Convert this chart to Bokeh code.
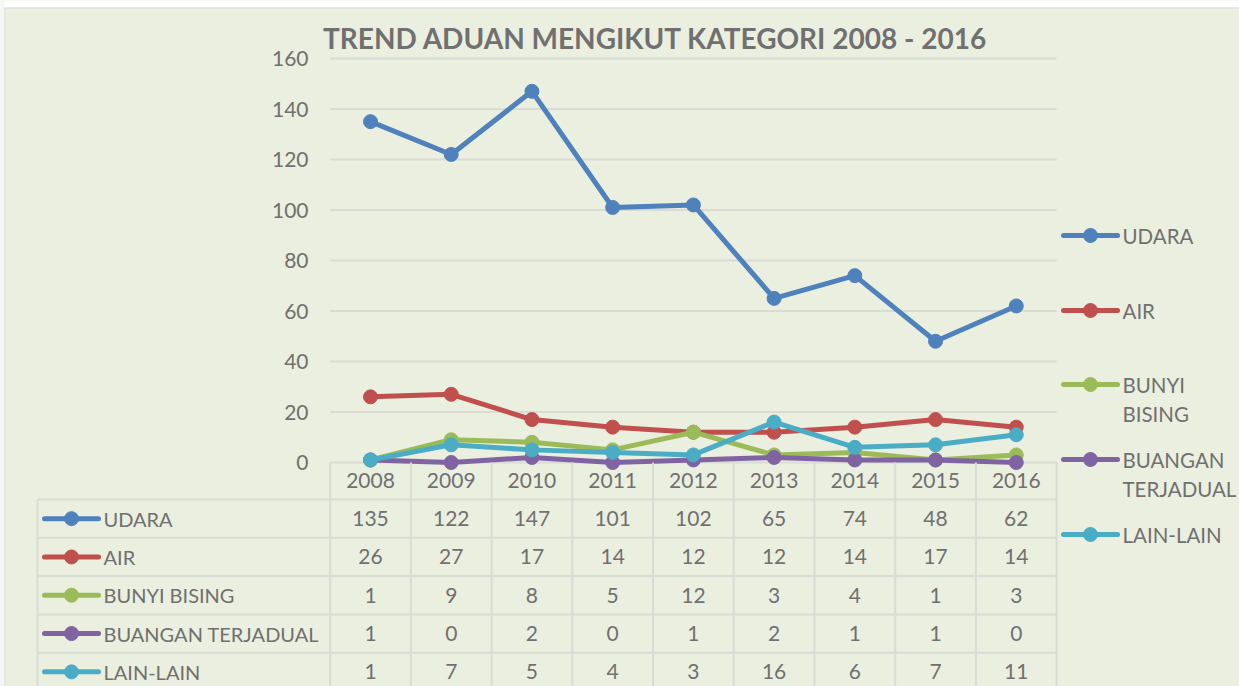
from bokeh.plotting import figure
from bokeh.models import Range1d
from bokeh.embed import file_html
from bokeh.resources import INLINE
from bokeh.core.properties import value

# ---------------- data ----------------
title_text = "TREND ADUAN MENGIKUT KATEGORI 2008 - 2016"
years = ["2008", "2009", "2010", "2011", "2012", "2013", "2014", "2015", "2016"]
series_names = ["UDARA", "AIR", "BUNYI BISING", "BUANGAN TERJADUAL", "LAIN-LAIN"]
legend_lines = [["UDARA"], ["AIR"], ["BUNYI", "BISING"], ["BUANGAN", "TERJADUAL"], ["LAIN-LAIN"]]
udara = [135, 122, 147, 101, 102, 65, 74, 48, 62]
air = [26, 27, 17, 14, 12, 12, 14, 17, 14]
bunyi_bising = [1, 9, 8, 5, 12, 3, 4, 1, 3]
buangan_terjadual = [1, 0, 2, 0, 1, 2, 1, 1, 0]
lain_lain = [1, 7, 5, 4, 3, 16, 6, 7, 11]
y_ticks = [0, 20, 40, 60, 80, 100, 120, 140, 160]

series_values = [udara, air, bunyi_bising, buangan_terjadual, lain_lain]
colors = ["#4F81BD", "#C0504D", "#9BBB59", "#8064A2", "#4BACC6"]

# ---------------- styling / layout ----------------
BG = "#EBEFDF"
TXT = "#707070"
GRID = "#D9DBD5"
FONT = value("Lato")
W, H = 1239, 686
ORIGIN = 0           # page offset of figure in picture
X0, DX = 370.0, 80.72   # picture x of first category, px per category
Y0, DY = 462.0, 2.525   # picture y of value 0, px per unit
LW = 5


def px_x(px):
    return (px - X0) / DX


def px_y(py):
    return (Y0 - py) / DY


x_range = Range1d(px_x(ORIGIN), px_x(ORIGIN + W))
y_range = Range1d(px_y(ORIGIN + H), px_y(ORIGIN))

p = figure(width=W, height=H, x_range=x_range, y_range=y_range,
           output_backend="svg", toolbar_location=None,
           x_axis_location=None, y_axis_location=None,
           min_border=0, min_border_left=0, min_border_right=0,
           min_border_top=0, min_border_bottom=0,
           background_fill_color=BG, border_fill_color=BG,
           outline_line_color=None)
p.grid.visible = False

# slide strip above / left of the chart box
p.quad(left=[px_x(0)], right=[px_x(W)], top=[px_y(0)], bottom=[px_y(7)],
       fill_color="#FFFFFF", line_color=None)
p.quad(left=[px_x(0)], right=[px_x(4)], top=[px_y(0)], bottom=[px_y(H)],
       fill_color="#F2F8F6", line_color=None)
p.segment(x0=[px_x(4)], x1=[px_x(W)], y0=[px_y(7.5)], y1=[px_y(7.5)],
          line_color="#DCDCDC", line_width=1)
p.segment(x0=[px_x(4.5)], x1=[px_x(4.5)], y0=[px_y(7.5)], y1=[px_y(H)],
          line_color="#DCDCDC", line_width=1)

n = len(years)
xs = list(range(n))
left_edge, right_edge = -0.5, n - 0.5

# gridlines
p.segment(x0=[left_edge] * len(y_ticks), x1=[right_edge] * len(y_ticks),
          y0=y_ticks, y1=y_ticks, line_color=GRID, line_width=2)
# y tick labels
p.text(x=[px_x(308)] * len(y_ticks), y=y_ticks, text=[str(t) for t in y_ticks],
       text_align="right", text_baseline="middle", text_font=FONT,
       text_font_size="21px", text_color=TXT)

# title
p.text(x=[px_x(655)], y=[px_y(37)], text=[title_text], text_align="center",
       text_baseline="middle", text_font=FONT, text_font_size="28px",
       text_font_style="bold", text_color=TXT)

# series
for vals, c in zip(series_values, colors):
    p.line(xs, vals, line_color=c, line_width=LW, line_join="round")
    p.scatter(xs, vals, size=14, fill_color=c, line_color=c)

# ---------------- data table ----------------
table_left = px_x(37)
header_mid = px_y(480)
row_top = 499.0
row_h = 38.3
row_lines = [px_y(row_top + k * row_h) for k in range(len(series_names))]
bottom = px_y(ORIGIN + H + 20)

p.segment(x0=[table_left] * len(row_lines), x1=[right_edge] * len(row_lines),
          y0=row_lines, y1=row_lines, line_color=GRID, line_width=2)
col_edges = [i - 0.5 for i in range(n + 1)]
p.segment(x0=col_edges, x1=col_edges, y0=[0] * len(col_edges), y1=[bottom] * len(col_edges),
          line_color=GRID, line_width=2)
p.segment(x0=[table_left], x1=[table_left], y0=[row_lines[0]], y1=[bottom],
          line_color=GRID, line_width=2)

p.text(x=xs, y=[header_mid] * n, text=years, text_align="center", text_baseline="middle",
       text_font=FONT, text_font_size="21px", text_color=TXT)

for r, (name, vals, c) in enumerate(zip(series_names, series_values, colors)):
    ymid = px_y(row_top + (r + 0.5) * row_h)
    p.text(x=xs, y=[ymid] * n, text=[str(v) for v in vals], text_align="center",
           text_baseline="middle", text_font=FONT, text_font_size="21px", text_color=TXT)
    p.line([px_x(44), px_x(98)], [ymid, ymid], line_color=c, line_width=LW, line_cap="round")
    p.scatter([px_x(71)], [ymid], size=14, fill_color=c, line_color=c)
    p.text(x=[px_x(103)], y=[ymid], text=[name], text_align="left", text_baseline="middle",
           text_font=FONT, text_font_size="20px", text_color=TXT)

# ---------------- right legend ----------------
legend_y = [235, 310, 384, 459, 534]
legend_lh = 29
for lines, c, ly in zip(legend_lines, colors, legend_y):
    yy = px_y(ly)
    p.line([px_x(1063), px_x(1117)], [yy, yy], line_color=c, line_width=LW, line_cap="round")
    p.scatter([px_x(1090)], [yy], size=14, fill_color=c, line_color=c)
    for k, t in enumerate(lines):
        p.text(x=[px_x(1122)], y=[px_y(ly + k * legend_lh)], text=[t], text_align="left",
               text_baseline="middle", text_font=FONT, text_font_size="20.5px", text_color=TXT)

open("out.html", "w").write(file_html(p, INLINE))
